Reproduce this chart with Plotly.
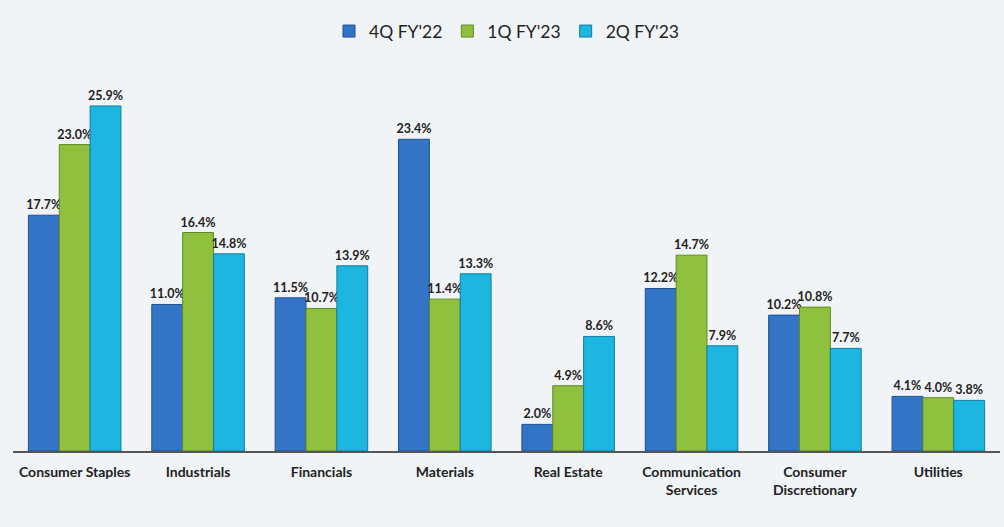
import plotly.graph_objects as go

categories = ["Consumer Staples", "Industrials", "Financials", "Materials", "Real Estate",
              "Communication<br>Services", "Consumer<br>Discretionary", "Utilities"]
q4_fy22 = [17.7, 11.0, 11.5, 23.4, 2.0, 12.2, 10.2, 4.1]
q1_fy23 = [23.0, 16.4, 10.7, 11.4, 4.9, 14.7, 10.8, 4.0]
q2_fy23 = [25.9, 14.8, 13.9, 13.3, 8.6, 7.9, 7.7, 3.8]
series_names = ["4Q FY'22", "1Q FY'23", "2Q FY'23"]
colors = ["#3374c6", "#8fc03e", "#1cb6e0"]
edges = ["#1f4f8f", "#5f8a22", "#0f7fa3"]

FONT = "Lato, Open Sans, sans-serif"

fig = go.Figure()
for name, vals, col, ed in zip(series_names, [q4_fy22, q1_fy23, q2_fy23], colors, edges):
    fig.add_trace(go.Bar(
        x=categories, y=vals, name=name,
        marker=dict(color=col, line=dict(color=ed, width=1)),
        text=[f"{v:.1f}%" for v in vals], textposition="outside",
        textfont=dict(family=FONT, size=12.5, color="#222222", weight="bold"),
        cliponaxis=False,
    ))

fig.update_layout(
    width=1004, height=527,
    barmode="group", bargap=0.25, bargroupgap=0,
    paper_bgcolor="#f1f4f6", plot_bgcolor="#f1f4f6",
    margin=dict(l=13, r=4, t=58, b=76),
    uniformtext=dict(minsize=12.5, mode="show"),
    legend=dict(orientation="h", x=0.5, xanchor="center", y=0.975, yanchor="top",
                yref="container", font=dict(family=FONT, size=17.5, color="#222222"),
                traceorder="normal", bgcolor="rgba(0,0,0,0)"),
    font=dict(family=FONT),
    showlegend=True,
)
fig.update_xaxes(showline=True, linecolor="#555555", linewidth=1.5, ticks="",
                 tickfont=dict(family=FONT, size=14, color="#222222", weight="bold"),
                 ticklabelstandoff=7, showgrid=False)
fig.update_yaxes(range=[0, 29.5], visible=False, showgrid=False)

fig.write_html("out.html", config={"displayModeBar": False},
               post_script="document.body.style.margin='0';document.body.style.background='#f1f4f6';")
